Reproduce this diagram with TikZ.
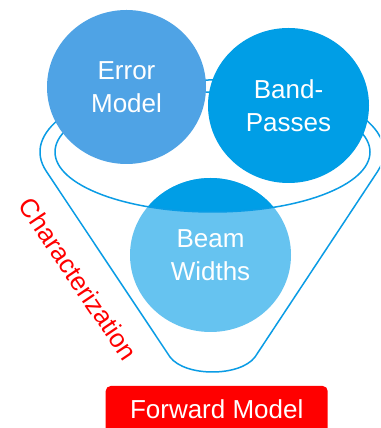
\documentclass[tikz,border=0pt]{standalone}
\usepackage{fontspec}
\setmainfont{Liberation Sans}
\usetikzlibrary{shapes.geometric}
\definecolor{errblue}{RGB}{79,163,229}
\definecolor{bpblue}{RGB}{0,158,230}
\definecolor{beamblue}{RGB}{102,195,240}
\definecolor{funnelblue}{RGB}{10,156,229}
\definecolor{myred}{RGB}{255,0,0}
\tikzset{
  bubble/.style={ellipse, inner sep=0pt, text=white, align=center,
    font=\fontsize{26}{33}\selectfont},
  funnelline/.style={draw=funnelblue, line width=1.5pt, line join=round},
  redbox/.style={rectangle, rounded corners=5pt, fill=myred, text=white,
    font=\fontsize{26}{30}\selectfont, minimum width=222pt, minimum height=47pt, inner sep=0pt},
  redlabel/.style={text=myred, font=\fontsize{26}{30}\selectfont, inner sep=0pt}
}
\begin{document}
\begin{tikzpicture}[x=1pt,y=1pt]
\useasboundingbox (0,0) rectangle (380,428);
\clip (0,0) rectangle (380,428);
\fill[white] (0,0) rectangle (380,428);
% beam widths bubble (light part)
\node[bubble, fill=beamblue, minimum width=161pt, minimum height=154pt] (beam) at (210.5,173) {};
% darker part inside funnel mouth
\begin{scope}
  \clip (212.5,276) ellipse [x radius=157.5, y radius=60];
  \fill[bpblue] (beam.center) ellipse [x radius=80.5, y radius=77];
\end{scope}
% funnel outline
\draw[funnelline] (212,276) ++(195.6:172 and 72)
  arc[start angle=195.6, end angle=-15.6, x radius=172, y radius=72]
  -- (255,71) .. controls (240,51) and (185,51) .. (170,71) -- cycle;
\draw[funnelline] (212.5,276) ellipse [x radius=157.5, y radius=60];
% top bubbles
\node[bubble, fill=errblue, minimum width=159pt, minimum height=154pt] (err) at (126.5,341) {Error\\Model};
\node[bubble, fill=bpblue, minimum width=161pt, minimum height=155pt] (bp) at (288.5,322.5) {Band-\\Passes};
\node[bubble] (beamtext) at (beam.center) {Beam\\Widths};
% labels
\node[redlabel, rotate=-56] (char) at (78.5,149) {Characterization};
\node[redbox] (fm) at (216.7,18.5) {Forward Model};
\end{tikzpicture}
\end{document}
